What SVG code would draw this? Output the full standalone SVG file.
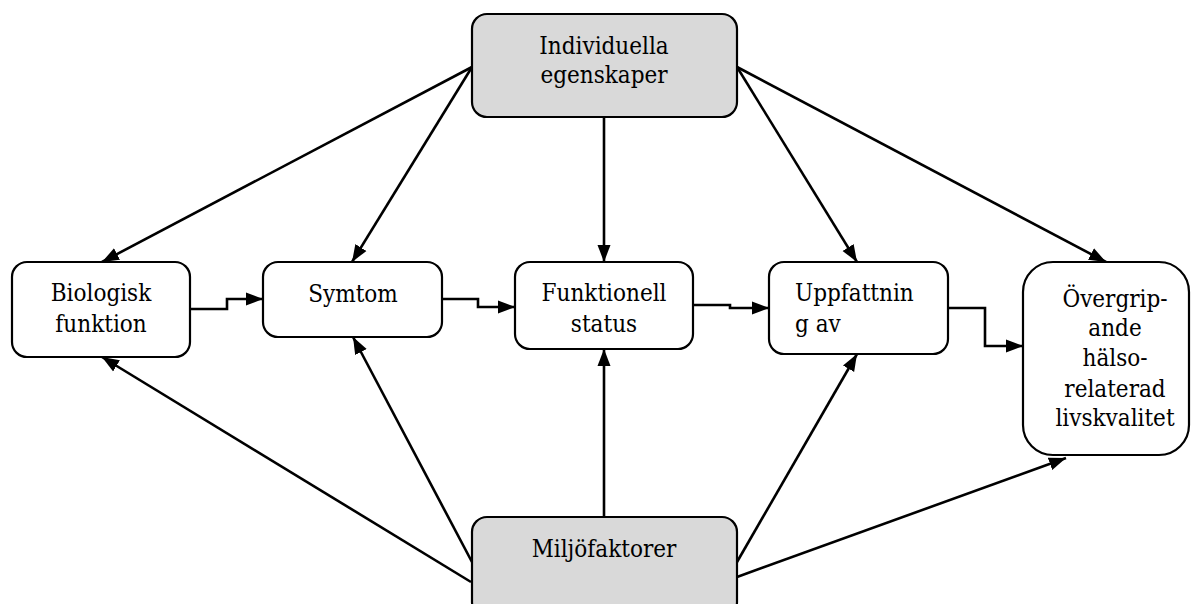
<svg xmlns="http://www.w3.org/2000/svg" width="1191" height="604" viewBox="0 0 1191 604">
<defs>
<style>
.box{fill:#ffffff;stroke:#000;stroke-width:2.2}
.grey{fill:#d9d9d9;stroke:#000;stroke-width:2.2}
text{font-family:'DejaVu Serif Condensed','DejaVu Serif','Liberation Serif',serif;font-stretch:condensed;font-size:24px;fill:#000}
.t{text-anchor:middle}
.tl{text-anchor:start}
.c{fill:none;stroke:#000;stroke-width:2.6;marker-end:url(#ah)}
</style>
<marker id="ah" markerUnits="userSpaceOnUse" markerWidth="18" markerHeight="14" viewBox="0 0 18 14" refX="17" refY="7" orient="auto">
<path d="M0,0.5 L17,7 L0,13.5 z" fill="#000"/>
</marker>
</defs>
<rect width="1191" height="604" fill="#fff"/>
<g id="connectors">
<line class="c" x1="472" y1="67" x2="102" y2="262"/>
<line class="c" x1="472" y1="67" x2="352" y2="262"/>
<line class="c" x1="604" y1="117" x2="604" y2="262"/>
<line class="c" x1="737" y1="67" x2="857" y2="262"/>
<line class="c" x1="737" y1="67" x2="1106" y2="262"/>
<line class="c" x1="471" y1="582" x2="102" y2="357"/>
<line class="c" x1="472" y1="562" x2="353" y2="337"/>
<line class="c" x1="604" y1="517" x2="604" y2="349"/>
<line class="c" x1="737" y1="562" x2="857" y2="354"/>
<line class="c" x1="737" y1="577" x2="1066" y2="458"/>
<path class="c" d="M190,309 H227 V299 H263"/>
<path class="c" d="M442,299 H478 V307 H515"/>
<path class="c" d="M693,305 H730 V308 H769"/>
<path class="c" d="M948,308 H985 V346 H1023"/>
</g>
<g id="individuella">
<rect class="grey" x="472" y="14" width="265" height="103" rx="15"/>
<text class="t" x="604" y="54">Individuella</text>
<text class="t" x="604" y="83">egenskaper</text>
</g>
<g id="miljo">
<rect class="grey" x="472" y="517" width="265" height="100" rx="15"/>
<text class="t" x="604" y="557">Miljöfaktorer</text>
</g>
<g id="biologisk">
<rect class="box" x="12" y="262" width="178" height="95" rx="15"/>
<text class="t" x="101" y="301">Biologisk</text>
<text class="t" x="101" y="332">funktion</text>
</g>
<g id="symtom">
<rect class="box" x="263" y="262" width="179" height="75" rx="15"/>
<text class="t" x="353" y="302">Symtom</text>
</g>
<g id="funktionell">
<rect class="box" x="515" y="262" width="178" height="87" rx="15"/>
<text class="t" x="604" y="301">Funktionell</text>
<text class="t" x="604" y="332">status</text>
</g>
<g id="uppfattning">
<rect class="box" x="769" y="262" width="179" height="92" rx="15"/>
<text class="tl" x="795" y="301">Uppfattnin</text>
<text class="tl" x="795" y="332">g av</text>
</g>
<g id="overgripande">
<rect class="box" x="1023" y="262" width="166" height="193" rx="30"/>
<text class="t" x="1115" y="307">Övergrip-</text>
<text class="t" x="1115" y="336">ande</text>
<text class="t" x="1115" y="366">hälso-</text>
<text class="t" x="1115" y="397">relaterad</text>
<text class="t" x="1115" y="426">livskvalitet</text>
</g>
</svg>
